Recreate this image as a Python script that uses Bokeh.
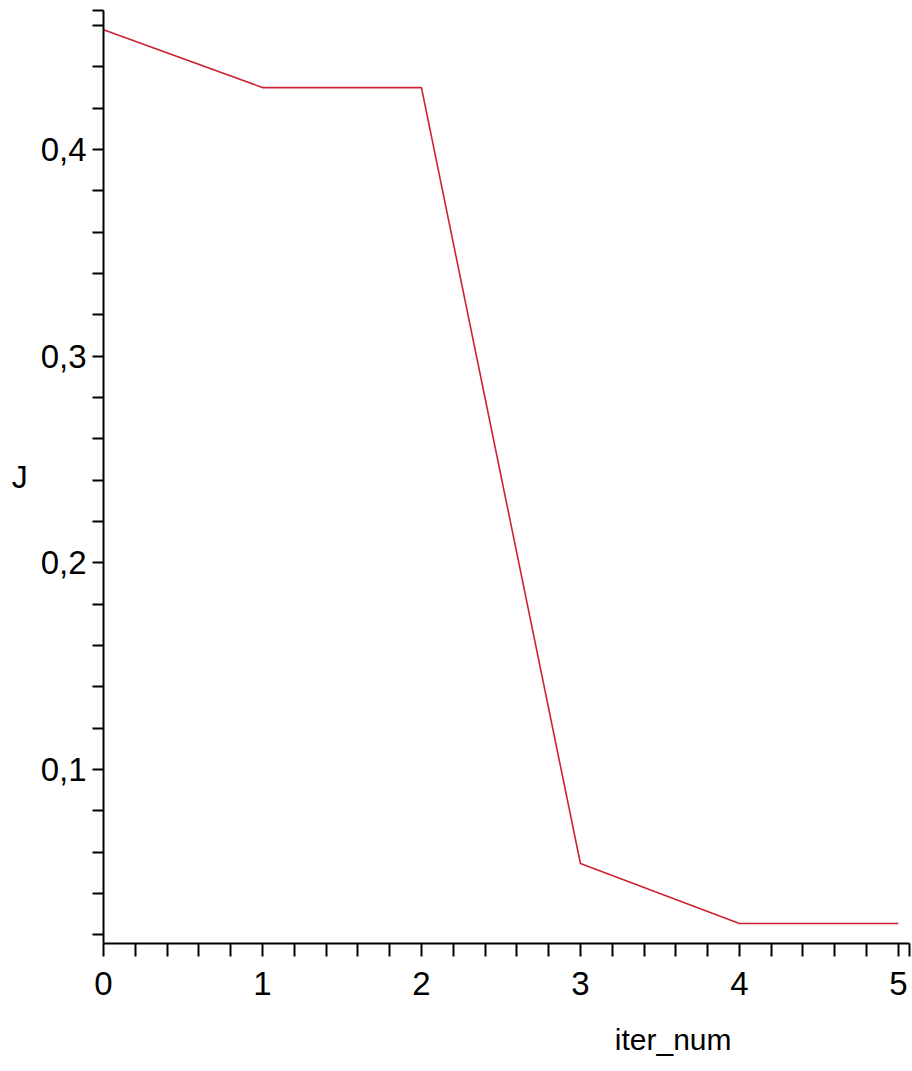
from bokeh.plotting import figure
from bokeh.models import Range1d, FixedTicker, Title
from bokeh.embed import file_html
from bokeh.resources import INLINE
import numpy as np

iter_num = [0, 1, 2, 3, 4, 5]
J = [0.458, 0.430, 0.430, 0.0545, 0.0255, 0.0255]
x_ticks = [0, 1, 2, 3, 4, 5]
y_ticks = [0.1, 0.2, 0.3, 0.4]
y_tick_labels = ["0,1", "0,2", "0,3", "0,4"]

X0, X1 = 0.0, 5.07
Y0, Y1 = 0.0158, 0.4673

FONT = "Liberation Sans"

p = figure(frame_width=806, frame_height=933, min_border_left=103, min_border_right=3,
           min_border_top=10, min_border_bottom=128,
           x_range=Range1d(X0, X1), y_range=Range1d(Y0, Y1),
           output_backend="svg", toolbar_location=None)
p.outline_line_color = None
p.xgrid.visible = False
p.ygrid.visible = False
p.background_fill_color = "white"
p.border_fill_color = "white"

p.line(iter_num, J, line_color="#cc2233", line_width=1.6)

x_minor = [round(v, 2) for v in np.arange(0.2, 5.0, 0.2) if abs(v - round(v)) > 1e-6] + [X1]
y_minor = [round(v, 2) for v in np.arange(0.02, 0.47, 0.02) if abs(v * 10 - round(v * 10)) > 1e-6] + [Y1]

xa = p.xaxis[0]
xa.ticker = FixedTicker(ticks=x_ticks, minor_ticks=x_minor)
ya = p.yaxis[0]
ya.ticker = FixedTicker(ticks=y_ticks, minor_ticks=y_minor)
ya.major_label_overrides = {t: s for t, s in zip(y_ticks, y_tick_labels)}

for ax, tout in ((xa, 13), (ya, 11)):
    ax.axis_line_color = "black"
    ax.axis_line_width = 2
    ax.major_tick_line_color = "black"
    ax.minor_tick_line_color = "black"
    ax.major_tick_line_width = 2
    ax.minor_tick_line_width = 2
    ax.major_tick_in = 0
    ax.minor_tick_in = 0
    ax.major_tick_out = tout
    ax.minor_tick_out = tout
    ax.major_label_text_font = FONT
    ax.major_label_text_font_size = "33px"
    ax.major_label_text_color = "black"

xa.major_label_standoff = 15
ya.major_label_standoff = 6

ya.axis_label = "J"
ya.axis_label_orientation = "horizontal"
ya.axis_label_text_font = FONT
ya.axis_label_text_font_size = "32px"
ya.axis_label_text_font_style = "normal"
ya.axis_label_text_color = "black"
ya.axis_label_standoff = 10

p.add_layout(Title(text="iter_num", align="right", offset=178, text_font=FONT,
                   text_font_size="30px", text_font_style="normal", text_color="black",
                   standoff=46), "below")

open("out.html", "w").write(file_html(p, INLINE))
